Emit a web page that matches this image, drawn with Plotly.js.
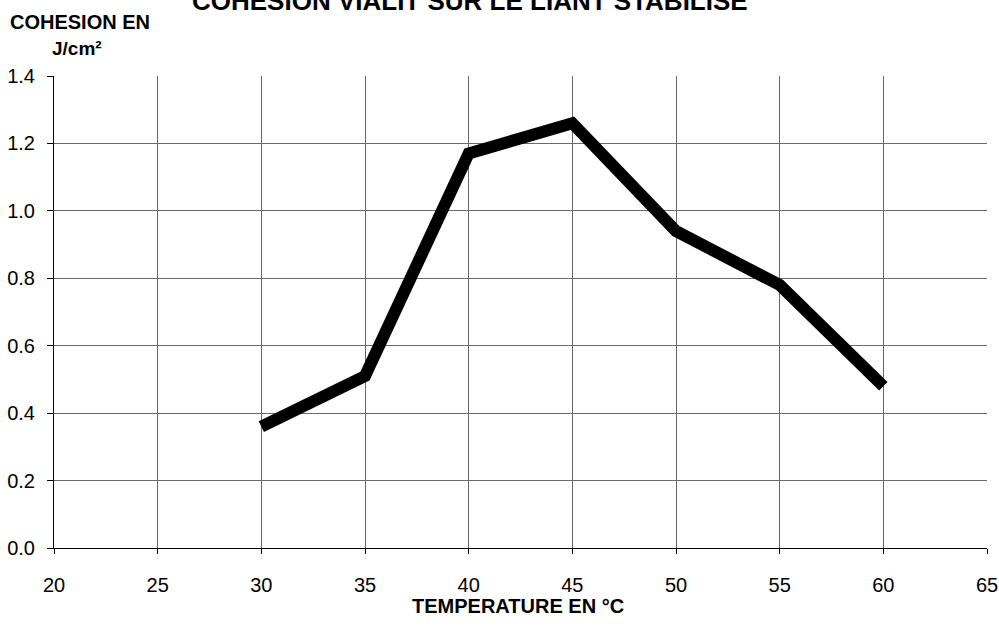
<!DOCTYPE html>
<html>
<head>
<meta charset="utf-8">
<script src="https://cdn.plot.ly/plotly-3.0.1.min.js"></script>
<style>html,body{margin:0;padding:0;background:#fff;}#chart{width:999px;height:626px;}</style>
</head>
<body>
<div id="chart"></div>
<script>
const temperatures = [30, 35, 40, 45, 50, 55, 60];
const cohesion = [0.36, 0.51, 1.17, 1.26, 0.94, 0.78, 0.48];
const xTicks = [20, 25, 30, 35, 40, 45, 50, 55, 60, 65];
const yTicks = [0, 0.2, 0.4, 0.6, 0.8, 1.0, 1.2, 1.4];
const yTickLabels = ["0.0", "0.2", "0.4", "0.6", "0.8", "1.0", "1.2", "1.4"];

const trace = {
  x: temperatures,
  y: cohesion,
  type: 'scatter',
  mode: 'lines',
  line: {color: '#000', width: 12},
  hoverinfo: 'skip'
};

const layout = {
  width: 999, height: 626,
  margin: {l: 54, r: 12, t: 76, b: 78},
  paper_bgcolor: '#fff', plot_bgcolor: '#fff',
  font: {family: 'Liberation Sans, Arial, sans-serif', color: '#000', size: 20},
  showlegend: false,
  xaxis: {
    range: [20, 65],
    tickvals: xTicks,
    ticktext: xTicks.map(String),
    showgrid: true, gridcolor: '#6a6a6a', gridwidth: 1,
    zeroline: false,
    showline: true, linecolor: '#000', linewidth: 1,
    ticks: 'outside', ticklen: 5, tickcolor: '#000',
    ticklabelstandoff: 14,
    tickfont: {size: 20}
  },
  yaxis: {
    range: [0, 1.4],
    tickvals: yTicks,
    ticktext: yTickLabels,
    showgrid: true, gridcolor: '#6a6a6a', gridwidth: 1,
    zeroline: false,
    showline: true, linecolor: '#000', linewidth: 1,
    ticks: 'outside', ticklen: 6, tickcolor: '#000',
    ticklabelstandoff: 8,
    tickfont: {size: 20}
  },
  annotations: [
    {text: '<b>COHESION VIALIT SUR LE LIANT STABILISE</b>', xref: 'paper', yref: 'paper',
     x: 0.446, y: 1.159, xanchor: 'center', yanchor: 'middle', showarrow: false,
     font: {size: 26}},
    {text: '<b>COHESION EN</b>', xref: 'paper', yref: 'paper',
     x: -0.0493, y: 1.114, xanchor: 'left', yanchor: 'middle', showarrow: false,
     font: {size: 20}},
    {text: '<b>J/cm²</b>', xref: 'paper', yref: 'paper',
     x: -0.0043, y: 1.059, xanchor: 'left', yanchor: 'middle', showarrow: false,
     font: {size: 19}},
    {text: '<b>TEMPERATURE EN °C</b>', xref: 'paper', yref: 'paper',
     x: 0.497, y: -0.1229, xanchor: 'center', yanchor: 'middle', showarrow: false,
     font: {size: 20}}
  ]
};

Plotly.newPlot('chart', [trace], layout, {displayModeBar: false, staticPlot: true});
</script>
</body>
</html>
